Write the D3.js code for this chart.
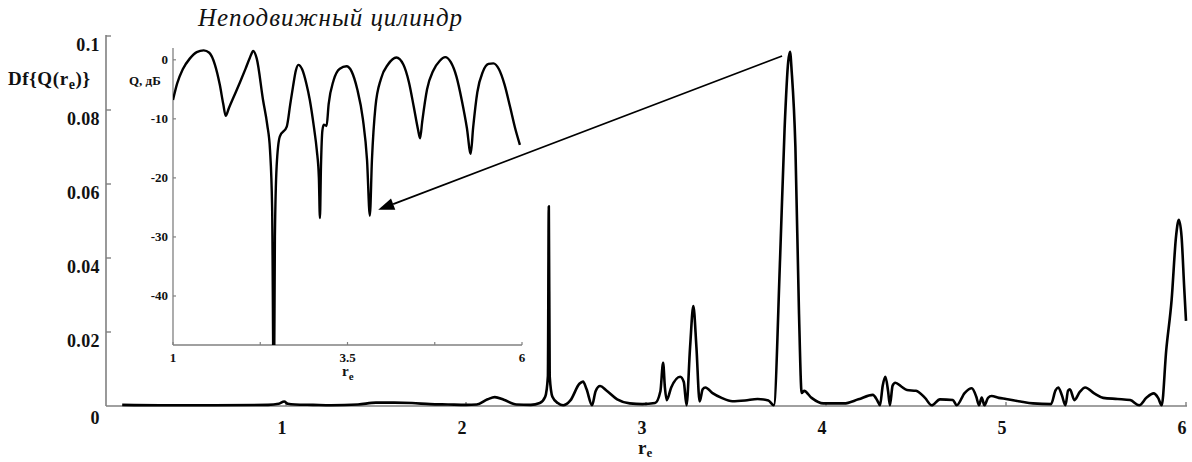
<!DOCTYPE html>
<html>
<head>
<meta charset="utf-8">
<script src="https://cdn.jsdelivr.net/npm/d3@7"></script>
<style>
  html, body { margin: 0; padding: 0; background: #fff; }
  svg { display: block; }
  text { font-family: "Liberation Serif", "DejaVu Serif", "Times New Roman", serif; fill: #111; }
</style>
</head>
<body>
<svg id="chart" width="1192" height="462"></svg>
<script>
// Main spectrum Df{Q(r_e)}
const mainRe = [0.09,0.3,0.6,0.9,0.96,0.99,1.01,1.05,1.15,1.25,1.4,1.5,1.6,1.7,1.8,1.9,2.0,2.06,2.12,2.16,2.21,2.28,2.36,2.41,2.44,2.455,2.46,2.465,2.48,2.51,2.54,2.58,2.63,2.65,2.67,2.70,2.72,2.745,2.78,2.84,2.91,2.98,3.05,3.08,3.095,3.105,3.115,3.14,3.19,3.21,3.225,3.245,3.263,3.28,3.298,3.315,3.33,3.37,3.42,3.48,3.55,3.62,3.68,3.71,3.745,3.77,3.79,3.80,3.81,3.83,3.85,3.865,3.878,3.92,3.985,4.1,4.18,4.26,4.285,4.30,4.315,4.33,4.345,4.355,4.37,4.385,4.42,4.45,4.5,4.55,4.587,4.633,4.705,4.726,4.77,4.81,4.835,4.85,4.865,4.88,4.90,4.92,4.96,5.0,5.08,5.15,5.25,5.275,5.29,5.31,5.33,5.345,5.355,5.38,5.41,5.44,5.49,5.54,5.62,5.69,5.74,5.78,5.82,5.845,5.865,5.89,5.92,5.945,5.96,5.975,5.99,6.0];
const mainDf = [0.0003,0.0002,0.0002,0.0003,0.0006,0.0012,0.0006,0.0004,0.0003,0.0002,0.0004,0.0009,0.0009,0.0008,0.0005,0.0004,0.0003,0.0004,0.0018,0.0024,0.0017,0.0004,0.0003,0.0008,0.0025,0.008,0.054,0.008,0.0025,0.0008,0.0002,0.0015,0.0060,0.0066,0.0045,0.0002,0.0040,0.0054,0.0042,0.0018,0.0007,0.0005,0.0008,0.004,0.0117,0.005,0.0016,0.0050,0.0079,0.0065,0.0002,0.016,0.027,0.016,0.0012,0.0045,0.0050,0.0035,0.0022,0.0013,0.0015,0.0019,0.0015,0.0002,0.04,0.075,0.093,0.0957,0.090,0.07,0.025,0.0035,0.0041,0.0022,0.0007,0.0007,0.0018,0.0030,0.0015,0.0002,0.0055,0.0079,0.004,0.0002,0.0055,0.0063,0.0052,0.0043,0.0041,0.0022,0.0002,0.0018,0.0016,0.0002,0.0035,0.0048,0.0025,0.0002,0.0023,0.0002,0.0022,0.0027,0.0022,0.0019,0.0012,0.0007,0.0005,0.0042,0.0050,0.0030,0.0002,0.0042,0.0045,0.0016,0.0038,0.0050,0.0034,0.0022,0.0019,0.0016,0.0002,0.0022,0.0034,0.0022,0.0002,0.015,0.0286,0.046,0.0503,0.046,0.032,0.023];
const mainXTicks = [1, 2, 3, 4, 5, 6];
const mainYTicks = [0, 0.02, 0.04, 0.06, 0.08, 0.1];
const mainYLabels = ["0", "0.02", "0.04", "0.06", "0.08", "0.1"];

// Inset: Q, dB for a fixed cylinder
const insetRe = [1.0,1.06,1.14,1.24,1.34,1.44,1.52,1.60,1.67,1.72,1.755,1.80,1.88,1.96,2.04,2.10,2.15,2.20,2.29,2.35,2.39,2.42,2.445,2.46,2.485,2.53,2.63,2.68,2.72,2.76,2.795,2.85,2.91,2.96,3.02,3.06,3.09,3.105,3.12,3.14,3.16,3.20,3.23,3.30,3.39,3.485,3.56,3.64,3.72,3.78,3.82,3.85,3.90,3.98,4.08,4.20,4.30,4.38,4.45,4.51,4.54,4.57,4.64,4.73,4.82,4.90,4.98,5.06,5.14,5.21,5.265,5.30,5.36,5.44,5.52,5.59,5.67,5.75,5.83,5.90,5.97];
const insetQ = [-6.8,-4.0,-1.6,0.2,1.3,1.6,1.2,-0.8,-4.2,-7.5,-9.5,-8.2,-6.0,-3.8,-1.5,0.3,1.5,0.2,-6.8,-11,-15.3,-25,-60,-30,-18,-13,-11.3,-7.5,-4.5,-1.8,-0.85,-1.6,-4.0,-6.8,-11.5,-15.3,-20,-26.8,-18,-12,-11,-11.2,-7.5,-3.5,-1.5,-1.1,-2.0,-5.0,-10,-17,-26.4,-17,-8,-3.2,-0.8,0.4,-0.8,-3.8,-8,-11.8,-13.3,-10.5,-5.0,-1.8,-0.2,0.45,-0.4,-2.8,-7.0,-11.5,-15.9,-11.5,-5.5,-2.0,-0.7,-0.6,-1.6,-4.2,-8.0,-11.5,-14.4];
const insetXTicks = [1, 2.25, 3.5, 4.75, 6];
const insetXLabels = [1, 3.5, 6];
const insetYTicks = [0, -10, -20, -30, -40];

const svg = d3.select("#chart");

// ---------- main panel ----------
const x = d3.scaleLinear().domain([0, 6]).range([106, 1186]);
const y = d3.scaleLinear().domain([0, 0.1]).range([406, 36]);

const axisColor = "#808080";

// y axis line + inward ticks
svg.append("line").attr("x1", x(0)).attr("x2", x(0)).attr("y1", y(0.1) - 1).attr("y2", y(0))
  .attr("stroke", axisColor).attr("stroke-width", 1.6);
svg.selectAll(".ytick").data(mainYTicks.slice(1)).join("line")
  .attr("x1", x(0)).attr("x2", x(0) + 5).attr("y1", d => y(d)).attr("y2", d => y(d))
  .attr("stroke", axisColor).attr("stroke-width", 1.4);
svg.selectAll(".ylab").data(mainYTicks).join("text")
  .attr("x", 100).attr("y", d => y(d) + (d === 0 ? 18 : 15))
  .attr("text-anchor", "end").attr("font-size", 18).attr("font-weight", "bold")
  .attr("letter-spacing", 0.4)
  .text((d, i) => mainYLabels[i]);

// x axis line + inward ticks
svg.append("line").attr("x1", x(0)).attr("x2", x(6) + 1).attr("y1", y(0)).attr("y2", y(0))
  .attr("stroke", axisColor).attr("stroke-width", 1.6);
svg.selectAll(".xtick").data(mainXTicks).join("line")
  .attr("x1", d => x(d)).attr("x2", d => x(d)).attr("y1", y(0)).attr("y2", y(0) - 4)
  .attr("stroke", axisColor).attr("stroke-width", 1.4);
svg.selectAll(".xlab").data(mainXTicks).join("text")
  .attr("x", d => x(d) - 4).attr("y", 434)
  .attr("text-anchor", "middle").attr("font-size", 18).attr("font-weight", "bold")
  .text(d => d);

// axis titles
const xt = svg.append("text").attr("x", 638).attr("y", 454).attr("font-size", 19).attr("font-weight", "bold");
xt.append("tspan").text("r");
xt.append("tspan").attr("dy", 3).attr("font-size", 13).text("e");

const yt = svg.append("text").attr("x", 8).attr("y", 85).attr("font-size", 19).attr("font-weight", "bold")
  .attr("letter-spacing", 0.6);
yt.append("tspan").text("Df{Q(r");
yt.append("tspan").attr("dy", 4).attr("font-size", 14).text("e");
yt.append("tspan").attr("dy", -4).text(")}");

// main curve
const mainData = mainRe.map((r, i) => [r, mainDf[i]]);
svg.append("path").datum(mainData)
  .attr("fill", "none").attr("stroke", "#000").attr("stroke-width", 2.6)
  .attr("stroke-linejoin", "round")
  .attr("d", d3.line().x(d => x(d[0])).y(d => y(d[1])).curve(d3.curveMonotoneX));

// ---------- inset panel ----------
const ix = d3.scaleLinear().domain([1, 6]).range([173, 522]);
const iy = d3.scaleLinear().domain([-48.3, 2.0]).range([345, 48]);

svg.append("defs").append("clipPath").attr("id", "insetClip")
  .append("rect").attr("x", 173).attr("y", 40).attr("width", 352).attr("height", 305);

svg.append("line").attr("x1", ix(1)).attr("x2", ix(1)).attr("y1", iy(2.0)).attr("y2", iy(-48.3))
  .attr("stroke", axisColor).attr("stroke-width", 1.3);
svg.append("line").attr("x1", ix(1)).attr("x2", ix(6)).attr("y1", iy(-48.3)).attr("y2", iy(-48.3))
  .attr("stroke", axisColor).attr("stroke-width", 1.3);
svg.selectAll(".iytick").data(insetYTicks).join("line")
  .attr("x1", ix(1)).attr("x2", ix(1) + 3).attr("y1", d => iy(d)).attr("y2", d => iy(d))
  .attr("stroke", axisColor).attr("stroke-width", 1.2);
svg.selectAll(".iylab").data(insetYTicks).join("text")
  .attr("x", 168).attr("y", d => iy(d) + 4.5)
  .attr("text-anchor", "end").attr("font-size", 13).attr("font-weight", "bold")
  .text(d => d);
svg.selectAll(".ixtick").data(insetXTicks).join("line")
  .attr("x1", d => ix(d)).attr("x2", d => ix(d)).attr("y1", iy(-48.3)).attr("y2", iy(-48.3) - 3)
  .attr("stroke", axisColor).attr("stroke-width", 1.2);
svg.selectAll(".ixlab").data(insetXLabels).join("text")
  .attr("x", d => ix(d)).attr("y", 362)
  .attr("text-anchor", "middle").attr("font-size", 13).attr("font-weight", "bold")
  .text(d => d);

const ixt = svg.append("text").attr("x", 342).attr("y", 376).attr("font-size", 15).attr("font-weight", "bold");
ixt.append("tspan").text("r");
ixt.append("tspan").attr("dy", 4).attr("font-size", 11).text("e");

svg.append("text").attr("x", 129).attr("y", 85).attr("font-size", 13).attr("font-weight", "bold")
  .text("Q, дБ");

const insetData = insetRe.map((r, i) => [r, insetQ[i]]);
svg.append("path").datum(insetData)
  .attr("clip-path", "url(#insetClip)")
  .attr("fill", "none").attr("stroke", "#000").attr("stroke-width", 2.4)
  .attr("stroke-linejoin", "round")
  .attr("d", d3.line().x(d => ix(d[0])).y(d => iy(d[1])).curve(d3.curveMonotoneX));

// title
svg.append("text").attr("x", 198).attr("y", 26)
  .attr("font-size", 25).attr("font-style", "italic").attr("fill", "#1a1a1a")
  .attr("textLength", 264).attr("lengthAdjust", "spacing")
  .text("Неподвижный цилиндр");

// arrow from the main resonance peak to the inset dip
const x0 = x(3.756), y0 = y(0.0946);
const x1 = ix(3.94), y1 = iy(-25.4);
const ang = Math.atan2(y1 - y0, x1 - x0);
const headLen = 16, headW = 6;
const bx = x1 - headLen * Math.cos(ang), by = y1 - headLen * Math.sin(ang);
svg.append("line").attr("x1", x0).attr("y1", y0).attr("x2", bx).attr("y2", by)
  .attr("stroke", "#000").attr("stroke-width", 1.8);
svg.append("path")
  .attr("d", d3.line()([
    [x1, y1],
    [bx + headW * Math.sin(ang), by - headW * Math.cos(ang)],
    [bx - headW * Math.sin(ang), by + headW * Math.cos(ang)]
  ]) + "Z")
  .attr("fill", "#000");
</script>
</body>
</html>
